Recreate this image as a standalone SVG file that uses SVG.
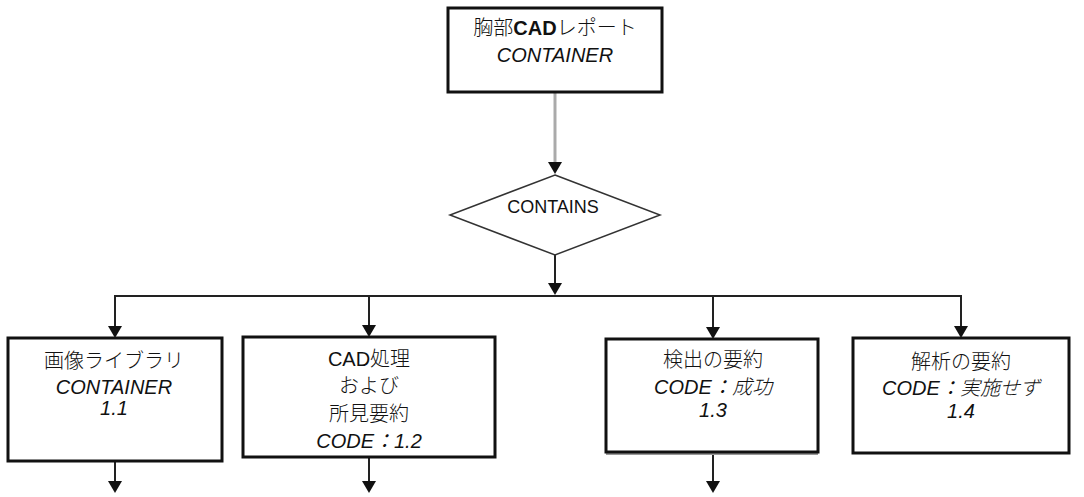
<svg xmlns="http://www.w3.org/2000/svg" width="1084" height="497" viewBox="0 0 1084 497">
<style>
.box{fill:#fff;stroke:#111;stroke-width:3}
.ln{fill:none;stroke:#222;stroke-width:2}
.gl{fill:none;stroke:#aaa;stroke-width:3}
.ah{fill:#111}
text{font-family:"Liberation Sans","Noto Sans CJK JP",sans-serif;font-size:20px;fill:#111;text-anchor:middle}
.jp{font-weight:300}
.it{font-style:italic}
.b{font-weight:bold}
</style>
<defs>
<path id="arr" d="M-7,-12 L7,-12 L0,0 Z"/>
</defs>
<rect width="1084" height="497" fill="#fff"/>
<g id="connectors">
<line class="gl" x1="555" y1="92" x2="555" y2="162"/>
<use href="#arr" class="ah" x="555" y="174"/>
<line class="ln" x1="555" y1="255" x2="555" y2="286"/>
<use href="#arr" class="ah" x="555" y="295"/>
<polyline class="ln" points="115,328 115,296 961,296 961,328"/>
<line class="ln" x1="369" y1="296" x2="369" y2="328"/>
<line class="ln" x1="713" y1="296" x2="713" y2="328"/>
<use href="#arr" class="ah" x="115" y="338"/>
<use href="#arr" class="ah" x="369" y="337"/>
<use href="#arr" class="ah" x="713" y="339"/>
<use href="#arr" class="ah" x="961" y="338"/>
<line class="ln" x1="115" y1="462" x2="115" y2="484"/>
<use href="#arr" class="ah" x="115" y="493"/>
<line class="ln" x1="369" y1="458" x2="369" y2="484"/>
<use href="#arr" class="ah" x="369" y="493"/>
<line class="ln" x1="713" y1="455" x2="713" y2="484"/>
<use href="#arr" class="ah" x="713" y="493"/>
</g>
<g id="n-root">
<rect class="box" x="448" y="8" width="214" height="84"/>
<text x="555" y="35"><tspan class="jp">胸部</tspan><tspan class="b">CAD</tspan><tspan class="jp">レポート</tspan></text>
<text class="it" x="555" y="62">CONTAINER</text>
</g>
<g id="n-contains">
<polygon points="555,175 660,215 555,255 450,215" fill="#fff" stroke="#333" stroke-width="1.5"/>
<text x="553" y="213" style="font-size:18px">CONTAINS</text>
</g>
<g id="n-1-1">
<rect class="box" x="8" y="338" width="214" height="123"/>
<text class="jp" x="114" y="368">画像ライブラリ</text>
<text class="it" x="114" y="394">CONTAINER</text>
<text class="it" x="114" y="415">1.1</text>
</g>
<g id="n-1-2">
<rect class="box" x="243" y="337" width="252" height="120"/>
<text x="369" y="366">CAD<tspan class="jp">処理</tspan></text>
<text class="jp" x="369" y="393">および</text>
<text class="jp" x="369" y="421">所見要約</text>
<text class="it" x="369" y="448">CODE：1.2</text>
</g>
<g id="n-1-3">
<line x1="606" y1="454" x2="818" y2="454" stroke="#999" stroke-width="2"/>
<rect class="box" x="606" y="339" width="212" height="113"/>
<text class="jp" x="713" y="367">検出の要約</text>
<text class="it" x="713" y="394">CODE：<tspan class="jp">成功</tspan></text>
<text class="it" x="713" y="417">1.3</text>
</g>
<g id="n-1-4">
<rect class="box" x="853" y="338" width="216" height="115"/>
<text class="jp" x="961" y="369">解析の要約</text>
<text class="it" x="961" y="395">CODE：<tspan class="jp">実施せず</tspan></text>
<text class="it" x="961" y="418">1.4</text>
</g>
</svg>
